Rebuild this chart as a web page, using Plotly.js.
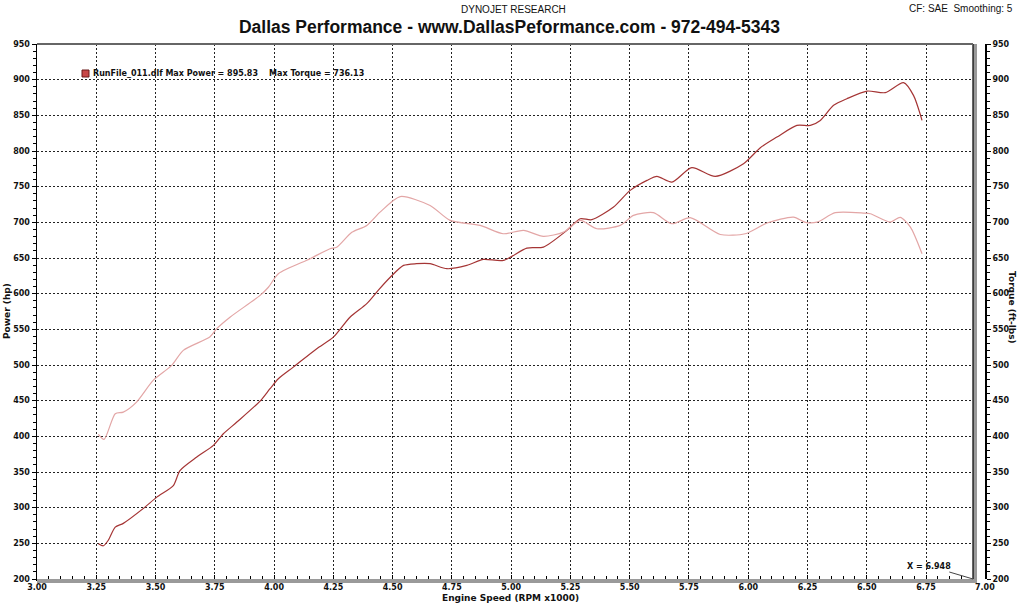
<!DOCTYPE html>
<html>
<head>
<meta charset="utf-8">
<script src="https://cdn.plot.ly/plotly-3.0.1.min.js"></script>
<style>html,body{margin:0;padding:0;background:#fff;}#chart{width:1019px;height:603px;}</style>
</head>
<body>
<div id="chart"></div>
<script>
// ---- data read from the dyno sheet ----
const powerRpm = [3.259,3.28,3.30,3.33,3.364,3.449,3.505,3.575,3.603,3.674,3.744,3.786,3.843,3.941,3.983,4.018,4.081,4.18,4.25,4.32,4.391,4.44,4.49,4.546,4.60,4.658,4.729,4.813,4.883,4.967,5.066,5.136,5.235,5.291,5.34,5.432,5.502,5.573,5.615,5.678,5.762,5.861,5.98,6.051,6.121,6.205,6.262,6.304,6.36,6.416,6.501,6.578,6.655,6.697,6.733];
const powerHp  = [249.5,246.6,254,272.8,278,299,314.8,331,352,371,387.3,403.6,420,449.4,466.8,480.8,497,522.9,539,567,586,605,623,639.6,642,642,635,639.6,648,646.6,663.9,665.3,688.7,705,703.7,721.4,744.8,758.8,764.4,756.4,776.6,764.4,782.2,804.6,819.5,835.9,835.9,842.9,864,873.3,884,881.8,895.8,878,843];
const torqueRpm = [3.259,3.283,3.33,3.364,3.42,3.49,3.568,3.617,3.73,3.758,3.814,3.941,3.976,4.018,4.152,4.236,4.264,4.328,4.391,4.447,4.532,4.658,4.743,4.869,4.967,5.052,5.136,5.221,5.291,5.362,5.46,5.516,5.6,5.678,5.755,5.882,5.987,6.079,6.191,6.241,6.29,6.367,6.486,6.515,6.599,6.641,6.684,6.733];
const torqueFtLb = [402.7,395.7,431.7,434,448,478.4,499.4,520.5,539.6,550.9,567,597.6,609,628,649,663,665,686,695.7,714.3,736.1,723.7,702.7,695.7,684,688.7,680.3,686.3,702.7,691,695.7,709.7,713.5,698,706.5,683,684,699,707.3,700,700.3,713.5,713,712,700.3,707,693.4,656];
const xTickVals = [3.00,3.25,3.50,3.75,4.00,4.25,4.50,4.75,5.00,5.25,5.50,5.75,6.00,6.25,6.50,6.75];
const xRange = [3.00, 6.948];
const yRange = [200, 950];
const extraTick = 7.00;
const maxPower = 895.83;
const maxTorque = 736.13;
const runName = "RunFile_011.dlf";

// ---- layout geometry ----
const W = 1019, H = 603;
const M = {l:37, r:46, t:44, b:24};
const PW = W - M.l - M.r, PH = H - M.t - M.b;
const px2x = p => (p - M.l) / PW;
const py2y = p => (H - M.b - p) / PH;

const dv = '"DejaVu Sans", Verdana, sans-serif';
const tickFont = {family:dv, size:8, color:'#111', weight:'bold'};
const narrow = '"Liberation Sans Narrow", "Arial Narrow", "Liberation Sans", Arial, sans-serif';

const traces = [
  {x: torqueRpm, y: torqueFtLb, yaxis:'y2', type:'scatter', mode:'lines',
   line:{color:'#e3a6a6', width:1.2, shape:'spline', smoothing:0.7}, hoverinfo:'skip'},
  {x: powerRpm, y: powerHp, type:'scatter', mode:'lines',
   line:{color:'#a53535', width:1.2, shape:'spline', smoothing:0.7}, hoverinfo:'skip'}
];

const shiftPx = (extraTick - xRange[0]) / (xRange[1] - xRange[0]) * PW - PW;

const layout = {
  width: W, height: H,
  margin: M,
  paper_bgcolor:'#fff', plot_bgcolor:'#fff',
  showlegend:false,
  title:{text:'Dallas Performance - www.DallasPeformance.com - 972-494-5343',
         font:{family:narrow, size:17.5, color:'#111', weight:'bold'},
         x:0.5, xanchor:'center', y:1-27/H, yanchor:'middle'},
  xaxis:{range:xRange, tickvals:xTickVals, tickformat:'.2f',
         showgrid:true, gridcolor:'#222', griddash:'2px,2px', gridwidth:1,
         showline:true, linecolor:'#000', linewidth:1.5, mirror:false,
         ticks:'inside', ticklen:4, tickcolor:'#000', tickwidth:1,
         minor:{dtick:0.05, tick0:3, ticks:'inside', ticklen:3, tickcolor:'#000', showgrid:false},
         tickfont:tickFont, zeroline:false, fixedrange:true},
  yaxis:{range:yRange, dtick:50, tick0:200,
         showgrid:true, gridcolor:'#222', griddash:'2px,2px', gridwidth:1,
         showline:true, linecolor:'#000', linewidth:1.5,
         ticks:'outside', ticklen:4, tickcolor:'#000',
         minor:{dtick:10, ticks:'outside', ticklen:3, tickcolor:'#000', showgrid:false},
         tickfont:tickFont, zeroline:false, fixedrange:true},
  yaxis2:{range:yRange, dtick:50, tick0:200, overlaying:'y', side:'right',
          anchor:'free', position:1, shift:shiftPx,
          showgrid:false, showline:true, linecolor:'#000', linewidth:1.5,
          ticks:'outside', ticklen:4, tickcolor:'#000',
          minor:{dtick:10, ticks:'outside', ticklen:3, tickcolor:'#000', showgrid:false},
          tickfont:tickFont, zeroline:false, fixedrange:true},
  shapes:[
    // frame shadows (styling)
    {type:'rect', xref:'paper', yref:'paper', x0:1, x1:1+4/PW, y0:-4/PH, y1:1, fillcolor:'#9a9a9a', line:{width:0}, layer:'above'},
    {type:'rect', xref:'paper', yref:'paper', x0:0, x1:1+4/PW, y0:-4/PH, y1:0, fillcolor:'#9a9a9a', line:{width:0}, layer:'above'},
    {type:'line', xref:'paper', yref:'paper', x0:1, x1:1, y0:0, y1:1, line:{color:'#000', width:1.2}},
    {type:'line', xref:'paper', yref:'paper', x0:0, x1:1, y0:1, y1:1, line:{color:'#666', width:2}},
    // legend swatch
    {type:'rect', xref:'paper', yref:'paper', x0:px2x(82), x1:px2x(89), y0:py2y(77), y1:py2y(70),
     fillcolor:'#c84848', line:{color:'#6a1a1a', width:1}}
  ],
  annotations:[
    {text:'DYNOJET RESEARCH', xref:'paper', yref:'paper', x:px2x(513), y:py2y(9), showarrow:false,
     xanchor:'center', yanchor:'middle', font:{family:narrow, size:10, color:'#111'}},
    {text:'CF: SAE  Smoothing: 5', xref:'paper', yref:'paper', x:px2x(1015), y:py2y(8), showarrow:false,
     xanchor:'right', yanchor:'middle', font:{family:narrow, size:10, color:'#111'}},
    {text: runName + ' Max Power = ' + maxPower.toFixed(2) + '\u00a0\u00a0\u00a0\u00a0Max Torque = ' + maxTorque.toFixed(2),
     xref:'paper', yref:'paper', x:px2x(91), y:py2y(73.5), showarrow:false,
     xanchor:'left', yanchor:'middle', font:tickFont},
    {text:'Engine Speed (RPM x1000)', xref:'paper', yref:'paper', x:px2x(510), y:py2y(597.5), showarrow:false,
     xanchor:'center', yanchor:'middle', font:{family:dv, size:9, color:'#111', weight:'bold'}},
    {text:'Power (hp)', xref:'paper', yref:'paper', x:px2x(7), y:py2y(311), showarrow:false, textangle:-90,
     xanchor:'center', yanchor:'middle', font:{family:dv, size:9, color:'#111', weight:'bold'}},
    {text:'Torque (ft-lbs)', xref:'paper', yref:'paper', x:px2x(1012), y:py2y(307), showarrow:false, textangle:90,
     xanchor:'center', yanchor:'middle', font:{family:dv, size:9, color:'#111', weight:'bold'}},
    {text: extraTick.toFixed(2), xref:'paper', yref:'paper', x:1 + shiftPx/PW, y:0, yshift:-2, showarrow:false,
     xanchor:'center', yanchor:'top', font:tickFont},
    {text:'X = ' + xRange[1].toFixed(3), xref:'x', yref:'y', x:xRange[1], y:yRange[0],
     showarrow:true, arrowhead:0, arrowwidth:1, arrowcolor:'#444', ax:-44, ay:-13,
     font:tickFont, bgcolor:'rgba(255,255,255,0)'}
  ]
};

Plotly.newPlot('chart', traces, layout, {staticPlot:true, displayModeBar:false});
</script>
</body>
</html>
